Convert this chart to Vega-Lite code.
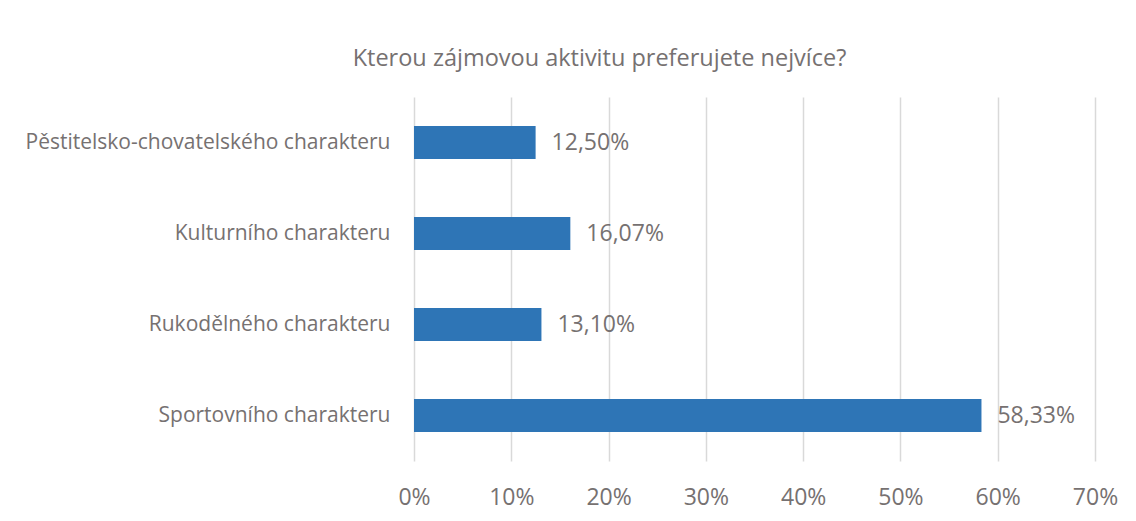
{
  "$schema": "https://vega.github.io/schema/vega-lite/v6.json",
  "autosize": "none",
  "width": 681,
  "height": 364,
  "padding": {"left": 414, "top": 97, "right": 41, "bottom": 60},
  "background": "white",
  "config": {
    "locale": {"number": {"decimal": ",", "thousands": " ", "grouping": [3], "currency": ["", " Kč"]}},
    "view": {"stroke": null},
    "font": "Open Sans"
  },
  "title": {
    "text": "Kterou zájmovou aktivitu preferujete nejvíce?",
    "font": "Open Sans",
    "fontSize": 23.5,
    "fontWeight": "normal",
    "color": "#767171",
    "anchor": "middle",
    "dx": -155,
    "offset": 27
  },
  "data": {
    "values": [
      {"kategorie": "Pěstitelsko-chovatelského charakteru", "podil": 0.125},
      {"kategorie": "Kulturního charakteru", "podil": 0.1607},
      {"kategorie": "Rukodělného charakteru\u00a0", "podil": 0.131},
      {"kategorie": "Sportovního charakteru", "podil": 0.5833}
    ]
  },
  "encoding": {
    "y": {
      "field": "kategorie",
      "type": "nominal",
      "sort": null,
      "scale": {"paddingInner": 0.64, "paddingOuter": 0.32},
      "axis": {
        "title": null,
        "domain": false,
        "ticks": false,
        "grid": false,
        "labelFont": "Open Sans",
        "labelFontSize": 21,
        "labelColor": "#767171",
        "labelPadding": 24,
        "labelLimit": 500
      }
    },
    "x": {
      "field": "podil",
      "type": "quantitative",
      "scale": {"domain": [0, 0.7]},
      "axis": {
        "title": null,
        "format": ".0%",
        "values": [0, 0.1, 0.2, 0.3, 0.4, 0.5, 0.6, 0.7],
        "domain": false,
        "ticks": false,
        "grid": true,
        "gridColor": "#d9d9d9",
        "gridWidth": 1.5,
        "labelFont": "Open Sans",
        "labelFontSize": 23,
        "labelColor": "#767171",
        "labelPadding": 25,
        "labelFlush": false
      }
    }
  },
  "layer": [
    {"mark": {"type": "bar", "color": "#2E75B6"}},
    {
      "mark": {"type": "text", "align": "left", "baseline": "middle", "dx": 16, "font": "Open Sans", "fontSize": 23, "color": "#767171"},
      "encoding": {"text": {"field": "podil", "type": "quantitative", "format": ".2%"}}
    }
  ]
}
